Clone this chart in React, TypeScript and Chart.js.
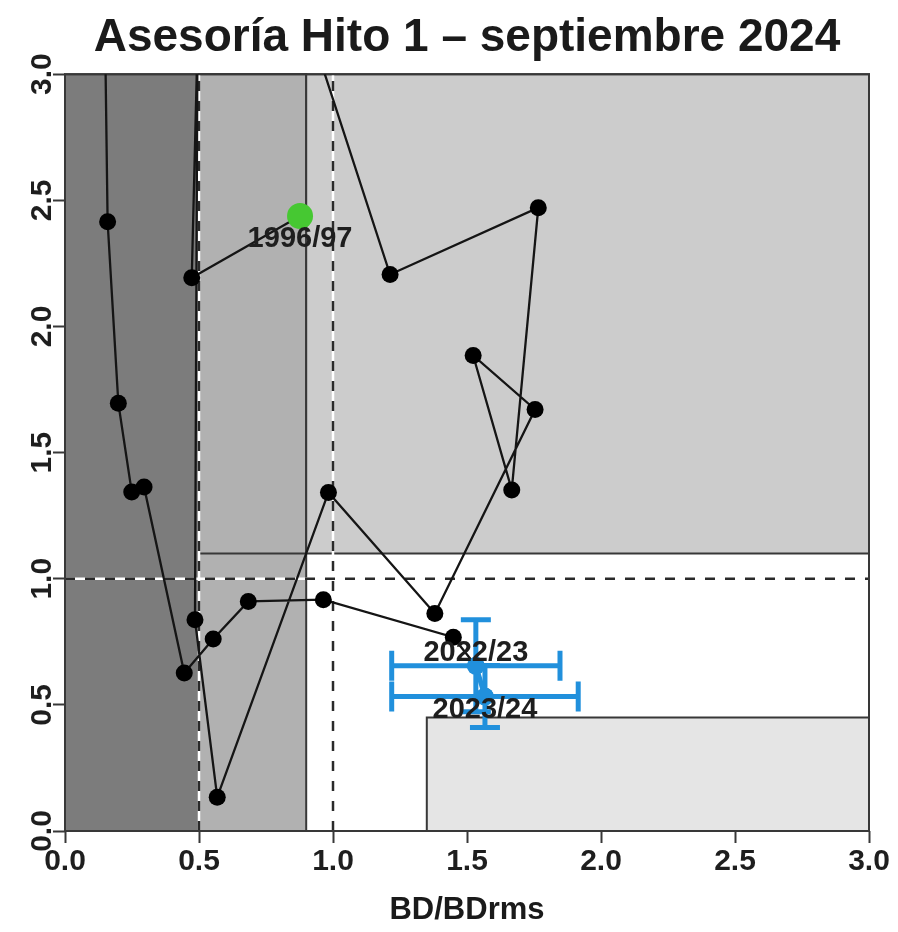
import React, { useEffect, useRef } from "react";
import { Chart, registerables } from "chart.js";

Chart.register(...registerables);

// ---------- data ----------
const seasons = [
  "1996/97", "1997/98", "1998/99", "1999/00", "2000/01", "2001/02", "2002/03",
  "2003/04", "2004/05", "2005/06", "2006/07", "2007/08", "2008/09", "2009/10",
  "2010/11", "2011/12", "2012/13", "2013/14", "2014/15", "2015/16", "2016/17",
  "2017/18", "2018/19", "2019/20", "2020/21", "2021/22", "2022/23", "2023/24",
];
const bdRatio = [
  0.877, 0.473, 0.525, 1.213, 1.766, 1.667, 1.523,
  1.754, 1.38, 0.983, 0.568, 0.485, 0.5, 0.4,
  0.3, 0.22, 0.13, 0.159, 0.199, 0.249, 0.295,
  0.445, 0.553, 0.684, 0.964, 1.449, 1.533, 1.567,
];
const fRatio = [
  2.438, 2.193, 4.45, 2.206, 2.471, 1.352, 1.885,
  1.671, 0.862, 1.342, 0.134, 0.837, 4.6, 5.2,
  4.9, 5.0, 4.7, 2.415, 1.696, 1.344, 1.364,
  0.626, 0.761, 0.91, 0.917, 0.768, 0.655, 0.533,
];

const ciSeasons = ["2022/23", "2023/24"];
const ciBdLow = [1.219, 1.219];
const ciBdHigh = [1.847, 1.915];
const ciFLow = [0.473, 0.41];
const ciFHigh = [0.837, 0.656];

const labeledSeasons = ["1996/97", "2022/23", "2023/24"];

const zoneBdFrom = [0, 0.5, 0.5, 0.9, 1.35];
const zoneBdTo = [0.5, 0.9, 0.9, 3, 3];
const zoneFFrom = [0, 0, 1.1, 1.1, 0];
const zoneFTo = [3, 3, 3, 3, 0.45];

const refBd = [0.5, 1.0];
const refF = [1.0];

const axisMin = 0;
const axisMax = 3;
const tickStep = 0.5;

const titleText = "Asesoría Hito 1 – septiembre 2024";
const xTitle = "BD/BDrms";

// ---------- styles ----------
const FONT = '"Liberation Sans", Arial, Helvetica, sans-serif';
const zoneColors = ["#7c7c7c", "#b1b1b1", "#b1b1b1", "#cccccc", "#e5e5e5"];
const EDGE = "#383838";
const BLUE = "#2190dc";
const GREEN = "#46c832";
const labelOffsets = [23, -13, 13];

const rect = (x0: number, x1: number, y0: number, y1: number) => [
  { x: x0, y: y0 },
  { x: x1, y: y0 },
  { x: x1, y: y1 },
  { x: x0, y: y1 },
  { x: x0, y: y0 },
];

const labelPlugin = {
  id: "seasonLabels",
  afterDatasetsDraw(chart: any) {
    const { ctx, scales } = chart;
    const xs = scales.x;
    const ys = scales.y;
    ctx.save();
    ctx.font = `bold 29px ${FONT}`;
    ctx.fillStyle = "#1e1e1e";
    ctx.textAlign = "center";
    ctx.textBaseline = "middle";
    labeledSeasons.forEach((s, i) => {
      const idx = seasons.indexOf(s);
      const px = xs.getPixelForValue(bdRatio[idx]);
      const py = ys.getPixelForValue(fRatio[idx]) + labelOffsets[i];
      ctx.fillText(s, px, py);
    });
    ctx.restore();
  },
};

export default function App() {
  const ref = useRef<HTMLCanvasElement>(null);

  useEffect(() => {
    const canvas = ref.current;
    if (!canvas) return;
    const datasets: any[] = [];
    let order = 1000;

    // zones
    zoneBdFrom.forEach((_, i) => {
      datasets.push({
        data: rect(zoneBdFrom[i], zoneBdTo[i], zoneFFrom[i], zoneFTo[i]),
        showLine: true,
        fill: "shape",
        backgroundColor: zoneColors[i],
        borderColor: EDGE,
        borderWidth: 2,
        pointRadius: 0,
        clip: false,
        order: order--,
      });
    });

    // reference lines
    const refLines: { x: number; y: number }[][] = [];
    refBd.forEach((v) => refLines.push([{ x: v, y: axisMin }, { x: v, y: axisMax }]));
    refF.forEach((v) => refLines.push([{ x: axisMin, y: v }, { x: axisMax, y: v }]));
    refLines.forEach((d) => {
      datasets.push({
        data: d, showLine: true, borderColor: "#ffffff", borderWidth: 2.5,
        pointRadius: 0, clip: 0, order: order--,
      });
      datasets.push({
        data: d, showLine: true, borderColor: "#2a2a2a", borderWidth: 2.5,
        borderDash: [10, 10], pointRadius: 0, clip: 0, order: order--,
      });
    });

    // box
    datasets.push({
      data: rect(axisMin, axisMax, axisMin, axisMax),
      showLine: true, fill: false, borderColor: EDGE, borderWidth: 2,
      pointRadius: 0, clip: false, order: order--,
    });

    // trajectory
    datasets.push({
      data: seasons.map((_, i) => ({ x: bdRatio[i], y: fRatio[i] })),
      showLine: true,
      borderColor: "#151515",
      borderWidth: 2.3,
      pointRadius: 8.5,
      pointBackgroundColor: "#000000",
      pointBorderWidth: 0,
      clip: 0,
      order: order--,
    });

    // first season highlighted
    datasets.push({
      data: [{ x: bdRatio[0], y: fRatio[0] }],
      pointRadius: 13,
      pointBackgroundColor: GREEN,
      pointBorderWidth: 0,
      order: order--,
    });

    // confidence bars
    ciSeasons.forEach((s, i) => {
      const idx = seasons.indexOf(s);
      datasets.push({
        data: [{ x: ciBdLow[i], y: fRatio[idx] }, { x: ciBdHigh[i], y: fRatio[idx] }],
        showLine: true, borderColor: BLUE, borderWidth: 5,
        pointStyle: "line", pointRadius: 15, pointRotation: 90,
        pointBorderColor: BLUE, pointBorderWidth: 5, order: order--,
      });
      datasets.push({
        data: [{ x: bdRatio[idx], y: ciFLow[i] }, { x: bdRatio[idx], y: ciFHigh[i] }],
        showLine: true, borderColor: BLUE, borderWidth: 5,
        pointStyle: "line", pointRadius: 15, pointRotation: 0,
        pointBorderColor: BLUE, pointBorderWidth: 5, order: order--,
      });
    });

    // current seasons
    datasets.push({
      data: ciSeasons.map((s) => {
        const idx = seasons.indexOf(s);
        return { x: bdRatio[idx], y: fRatio[idx] };
      }),
      showLine: true,
      borderColor: BLUE,
      borderWidth: 5,
      pointRadius: 9,
      pointBackgroundColor: BLUE,
      pointBorderWidth: 0,
      order: order--,
    });

    const chart = new Chart(canvas, {
      type: "scatter",
      data: { datasets },
      plugins: [labelPlugin],
      options: {
        animation: false,
        responsive: false,
        events: [],
        layout: { padding: { left: 0, right: 29, top: 0, bottom: 0 } },
        plugins: {
          legend: { display: false },
          tooltip: { enabled: false },
          title: {
            display: true,
            fullSize: false,
            text: titleText,
            color: "#1a1a1a",
            font: { family: FONT, size: 46, weight: "bold" },
            padding: { top: 11, bottom: 8 },
          },
        },
        scales: {
          x: {
            type: "linear",
            min: axisMin,
            max: axisMax,
            position: "bottom",
            afterFit: (s: any) => { s.height = 101; },
            ticks: {
              stepSize: tickStep,
              callback: (v: any) => Number(v).toFixed(1),
              font: { family: FONT, size: 30, weight: "bold" },
              color: "#1e1e1e",
              padding: 1,
              maxRotation: 0,
            },
            grid: {
              drawOnChartArea: false,
              drawTicks: true,
              tickLength: 12,
              tickColor: EDGE,
              tickWidth: 2,
            },
            border: { display: false },
            title: {
              display: true,
              text: xTitle,
              color: "#1a1a1a",
              font: { family: FONT, size: 31, weight: "bold" },
              padding: { top: 0, bottom: 3 },
            },
          },
          y: {
            type: "linear",
            min: axisMin,
            max: axisMax,
            position: "left",
            afterFit: (s: any) => { s.width = 65; },
            ticks: {
              stepSize: tickStep,
              callback: (v: any) => Number(v).toFixed(1),
              font: { family: FONT, size: 30, weight: "bold" },
              color: "#1e1e1e",
              minRotation: 90,
              maxRotation: 90,
              crossAlign: "center",
              padding: -11,
            },
            grid: {
              drawOnChartArea: false,
              drawTicks: true,
              tickLength: 12,
              tickColor: EDGE,
              tickWidth: 2,
            },
            border: { display: false },
          },
        },
      } as any,
    });
    return () => chart.destroy();
  }, []);

  return (
    <div style={{ position: "fixed", left: 0, top: 0, width: 898, height: 932, background: "#ffffff" }}>
      <canvas ref={ref} width={898} height={932} style={{ display: "block" }} />
    </div>
  );
}
